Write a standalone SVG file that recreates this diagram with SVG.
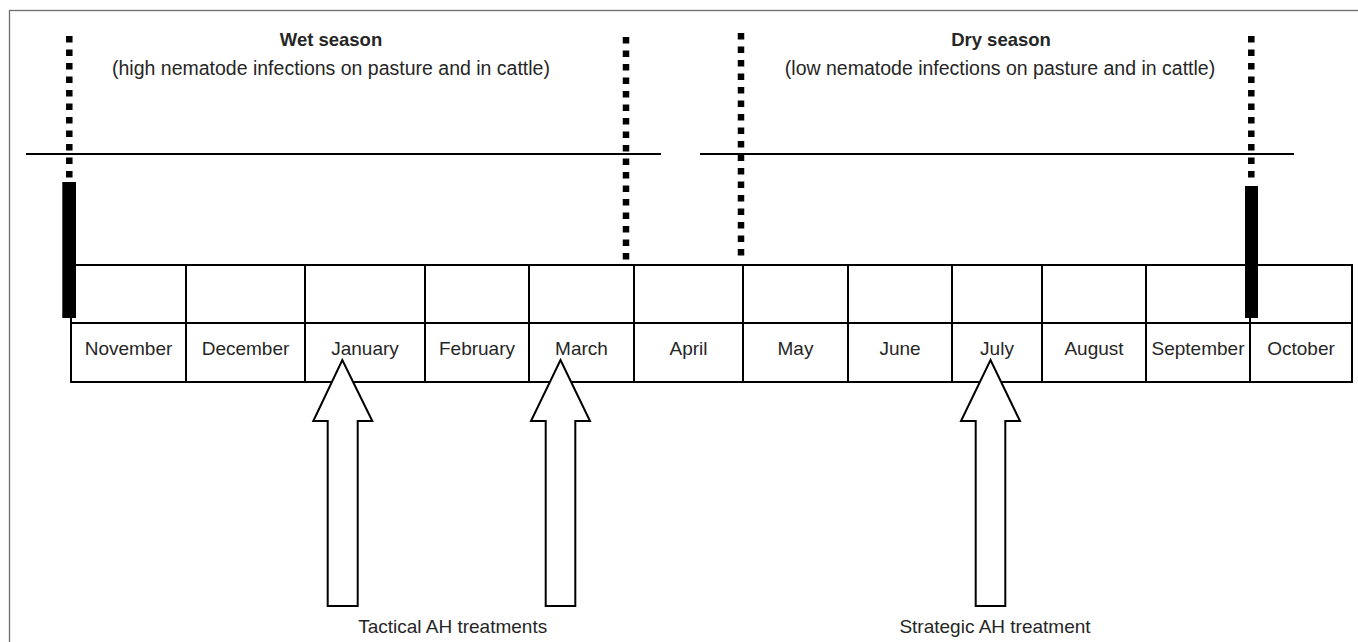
<svg xmlns="http://www.w3.org/2000/svg" width="1358" height="642" viewBox="0 0 1358 642">
<style>
text{font-family:"Liberation Sans",Arial,sans-serif;fill:#262626}
.month{font-size:19px;text-anchor:middle}
.title{font-size:18.5px;font-weight:bold;text-anchor:middle}
.sub{font-size:19.5px;text-anchor:middle}
.lbl{font-size:19px;text-anchor:middle}
.dot{stroke:#000;stroke-width:6.5;stroke-dasharray:6.5 7;fill:none}
.bar{fill:#000}
.ln{stroke:#000;stroke-width:2;fill:none}
.cell{stroke:#000;stroke-width:2;fill:none}
.arrow{fill:#fff;stroke:#000;stroke-width:2;stroke-linejoin:miter}
</style>
<rect x="9.5" y="10.5" width="1400" height="700" fill="#fff" stroke="#6e6e6e" stroke-width="1.3"/>

<g id="season-labels">
<text class="title" x="331" y="46">Wet season</text>
<text class="sub" x="331" y="75">(high nematode infections on pasture and in cattle)</text>
<text class="title" x="1001" y="46">Dry season</text>
<text class="sub" x="1000" y="75">(low nematode infections on pasture and in cattle)</text>
</g>

<g id="table">
<rect class="cell" x="71" y="265" width="1281" height="117"/>
<line class="cell" x1="71" y1="323" x2="1352" y2="323"/>
<path class="cell" d="M186 265V382M305 265V382M425 265V382M529 265V382M634 265V382M743 265V382M848 265V382M952 265V382M1042 265V382M1146 265V382M1250 265V382"/>
<text class="month" x="128.5" y="355">November</text>
<text class="month" x="245.5" y="355">December</text>
<text class="month" x="365" y="355">January</text>
<text class="month" x="477" y="355">February</text>
<text class="month" x="581.5" y="355">March</text>
<text class="month" x="688.5" y="355">April</text>
<text class="month" x="795.5" y="355">May</text>
<text class="month" x="900" y="355">June</text>
<text class="month" x="997" y="355">July</text>
<text class="month" x="1094" y="355">August</text>
<text class="month" x="1198" y="355">September</text>
<text class="month" x="1301" y="355">October</text>
</g>

<g id="season-lines">
<line class="ln" x1="26" y1="154" x2="661" y2="154"/>
<line class="ln" x1="700" y1="154" x2="1294" y2="154"/>
</g>

<g id="boundaries">
<line class="dot" x1="69.3" y1="36" x2="69.3" y2="182"/>
<rect class="bar" x="62.3" y="182" width="13.7" height="136"/>
<line class="dot" x1="626" y1="37" x2="626" y2="264"/>
<line class="dot" x1="741" y1="33" x2="741" y2="261"/>
<line class="dot" x1="1251.3" y1="36" x2="1251.3" y2="184"/>
<rect class="bar" x="1245" y="186" width="13" height="132"/>
</g>

<g id="treatments">
<path class="arrow" d="M342.3 360L372.3 421H357.7V606H327.7V421H313.3Z"/>
<path class="arrow" d="M560.5 360L590 421H575.3V606H545.7V421H531Z"/>
<path class="arrow" d="M990.5 360L1020 421H1005.3V606H975.7V421H961Z"/>
<text class="lbl" x="452.7" y="633">Tactical AH treatments</text>
<text class="lbl" x="995" y="633">Strategic AH treatment</text>
</g>
</svg>
